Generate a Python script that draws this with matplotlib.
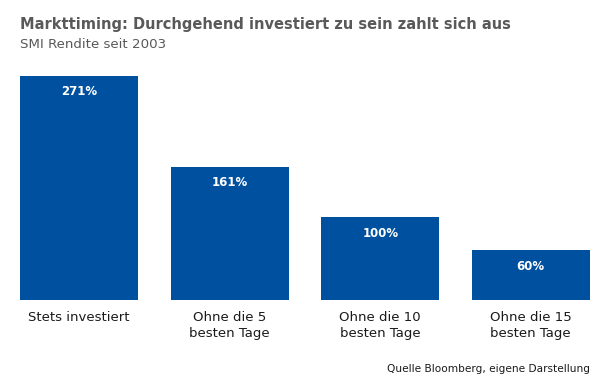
import matplotlib.pyplot as plt

# Daten
kategorien = ["Stets investiert", "Ohne die 5\nbesten Tage", "Ohne die 10\nbesten Tage", "Ohne die 15\nbesten Tage"]
rendite = [271, 161, 100, 60]
labels = ["271%", "161%", "100%", "60%"]

BLAU = "#0050a0"
GRAU = "#595959"

fig = plt.figure(figsize=(6.06, 3.84), dpi=100)
ax = fig.add_axes([20 / 606, 1 - 300 / 384, 570 / 606, 224 / 384])

x = range(len(kategorien))
ax.bar(x, rendite, width=0.787, color=BLAU)
ax.set_xlim(-0.3935, 3.3935)
ax.set_ylim(0, 271)

for i, (v, t) in enumerate(zip(rendite, labels)):
    ax.annotate(t, (i, v), xytext=(0, -11.5), textcoords="offset points",
                ha="center", va="center", color="white", fontsize=8.5, fontweight="bold")

ax.set_xticks(list(x))
ax.set_xticklabels(kategorien, fontsize=9.5, color="#1a1a1a", linespacing=1.3)
ax.tick_params(axis="x", length=0, pad=8)
ax.set_yticks([])
for s in ax.spines.values():
    s.set_visible(False)

fig.text(20 / 606, 1 - 29 / 384, "Markttiming: Durchgehend investiert zu sein zahlt sich aus",
         fontsize=10.5, fontweight="bold", color=GRAU, va="baseline")
fig.text(20 / 606, 1 - 48 / 384, "SMI Rendite seit 2003", fontsize=9.6, color=GRAU, va="baseline")
fig.text(590 / 606, 1 - 372 / 384, "Quelle Bloomberg, eigene Darstellung", fontsize=7.6,
         color="#1a1a1a", ha="right", va="baseline")

fig.savefig("out.png", dpi=100)
